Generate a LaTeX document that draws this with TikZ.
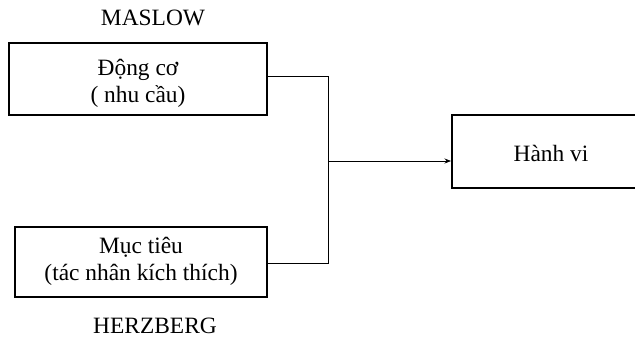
\documentclass[tikz,border=0pt]{standalone}
\usepackage{fontspec}
\setmainfont{Liberation Serif}
\usetikzlibrary{arrows.meta}
\begin{document}
\begin{tikzpicture}[x=1bp,y=-1bp,
  box/.style={draw,line width=1.5bp,inner sep=0pt},
  boxtext/.style={align=center,inner sep=0pt,font=\fontsize{23.5}{27}\selectfont},
  label/.style={font=\fontsize{23.5}{27}\selectfont},
  wire/.style={line width=0.7bp},
  arrowwire/.style={wire,-{Stealth[length=6.5bp,width=5bp]}}]
  \useasboundingbox (0,0) rectangle (635,338);
  \clip (0,0) rectangle (635,338);
  % the two cause boxes on the left
  \node[box,minimum width=258bp,minimum height=72bp] (motive) at (138,79) {};
  \node[boxtext] (motivetext) at (138,83) {Động cơ\\( nhu cầu)};
  \node[box,minimum width=252bp,minimum height=70bp] (goal) at (141,262) {};
  \node[boxtext] (goaltext) at (141,261) {Mục tiêu\\(tác nhân kích thích)};
  % headings above and below
  \node[label] (maslow) at (153,18) {MASLOW};
  \node[label] (herzberg) at (155,326) {HERZBERG};
  % result box, running off the right edge
  \node[box,minimum width=200bp,minimum height=73bp,anchor=west] (behav) at (451,151.5) {};
  \node[label] (behavtext) at (551,153) {Hành vi};
  % joining lines
  \coordinate (jtop) at (328,76);
  \coordinate (jbot) at (328,263);
  \coordinate (jmid) at (328,161);
  \draw[wire] (motive.east |- jtop) -- (jtop) -- (jbot) -- (goal.east |- jbot);
  \draw[arrowwire] (jmid) -- (behav.west |- jmid);
\end{tikzpicture}
\end{document}
